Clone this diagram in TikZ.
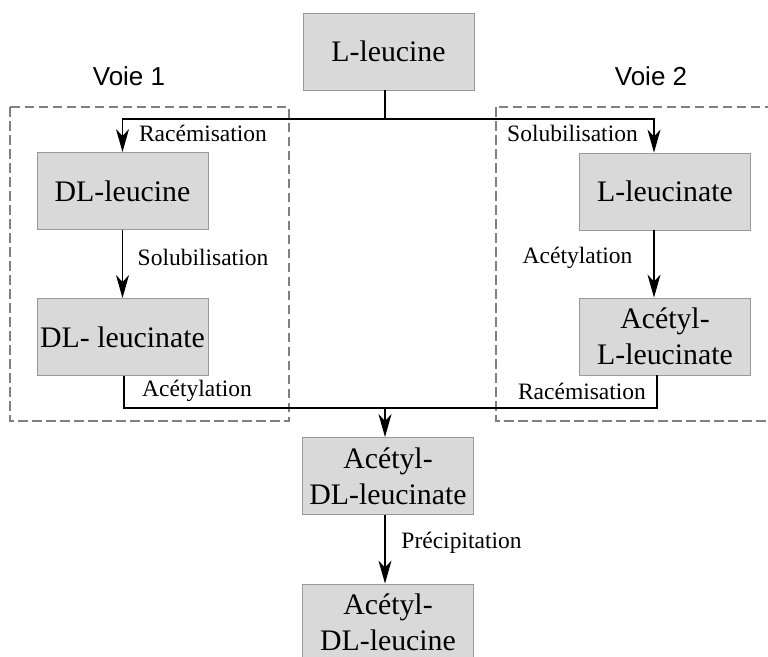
\documentclass[tikz,border=0pt]{standalone}
\usepackage{fontspec}
\setmainfont{Liberation Serif}
\newfontfamily\voiefont{Liberation Sans}
\usetikzlibrary{arrows.meta}
\definecolor{boxfill}{HTML}{D9D9D9}
\definecolor{boxline}{HTML}{999999}
\definecolor{dashline}{HTML}{808080}
\tikzset{
  stepbox/.style={draw=boxline, fill=boxfill, line width=0.9pt, minimum width=171pt, minimum height=77pt, inner sep=0pt, align=center, font=\fontsize{29.8}{36}\selectfont},
  lbl/.style={inner sep=0pt, font=\fontsize{23.5}{28}\selectfont},
  voie/.style={inner sep=0pt, font=\voiefont\fontsize{26}{30}\selectfont},
  conn/.style={line width=1.3pt, black},
  arr/.style={conn, -{Stealth[length=23pt, width=13pt, inset=7pt]}},
  grp/.style={draw=dashline, line width=2.4pt, dash pattern=on 9.5pt off 4.5pt}
}
\begin{document}
\begin{tikzpicture}[x=1pt, y=-1pt]
\useasboundingbox (0,0) rectangle (768,656);
\clip (0,0) rectangle (768,656);
% groups
\draw[grp] (10,107) rectangle (289,421);
\draw[grp] (496,107) rectangle (790,421);
\node[voie] (v1) at (129,76) {Voie 1};
\node[voie] (v2) at (651,76) {Voie 2};
% boxes
\node[stepbox] (Lleu) at (388.5,51.5) {L-leucine};
\node[stepbox] (DLleu) at (122.5,191) {DL-leucine};
\node[stepbox] (DLnate) at (122.5,337) {DL- leucinate};
\node[stepbox] (Lnate) at (665,191.5) {L-leucinate};
\node[stepbox] (ALnate) at (665,336.5) {Acétyl-\\L-leucinate};
\node[stepbox] (ADLnate) at (388,476) {Acétyl-\\DL-leucinate};
\node[stepbox] (ADLleu) at (388,622.5) {Acétyl-\\DL-leucine};
% junctions
\coordinate (top) at (385,119);
\coordinate (bot) at (385,408);
% connectors
\draw[conn] (Lleu.south -| top) -- (top);
\draw[arr] (top) -| (DLleu.north);
\draw[arr] (top) -| ([xshift=-11pt]Lnate.north);
\draw[arr] (DLleu.south) -- (DLnate.north);
\draw[arr] ([xshift=-11pt]Lnate.south) -- ([xshift=-11pt]ALnate.north);
\draw[conn] ([xshift=1.5pt]DLnate.south) |- (bot);
\draw[conn] ([xshift=-8pt]ALnate.south) |- (bot);
\draw[arr] (bot) -- (ADLnate.north -| bot);
\draw[arr] (ADLnate.south -| bot) -- (ADLleu.north -| bot);
% labels
\node[lbl] (l1) at (203,133) {Racémisation};
\node[lbl] (l2) at (572.5,133) {Solubilisation};
\node[lbl] (l3) at (203,257) {Solubilisation};
\node[lbl] (l4) at (577.5,258) {Acétylation};
\node[lbl] (l5) at (197,391) {Acétylation};
\node[lbl] (l6) at (582,391) {Racémisation};
\node[lbl] (l7) at (461.5,543) {Précipitation};
\end{tikzpicture}
\end{document}
